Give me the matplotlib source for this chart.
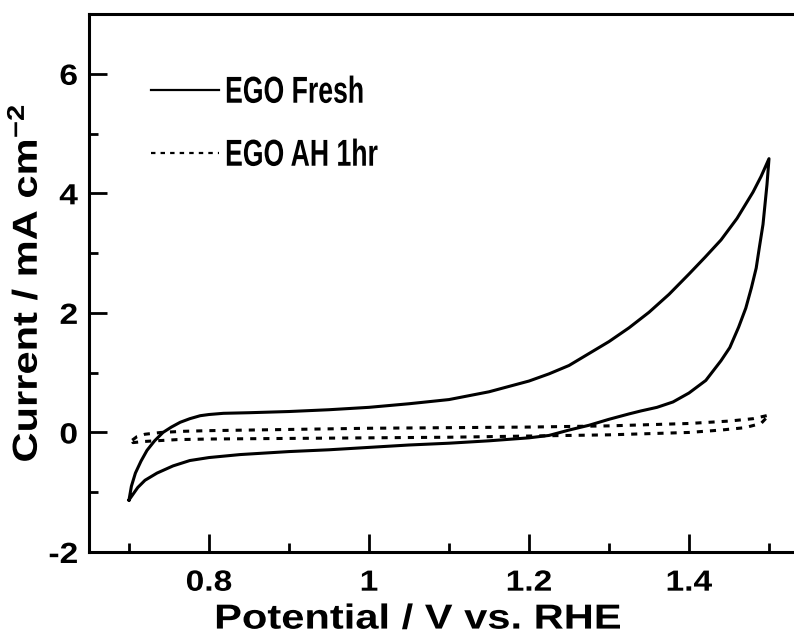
import matplotlib
matplotlib.use("Agg")
import matplotlib.pyplot as plt
from matplotlib.ticker import MultipleLocator, FuncFormatter
from matplotlib.patheffects import AbstractPathEffect
from matplotlib.transforms import Affine2D

# CV of fresh EGO electrode (anodic sweep then cathodic sweep)
fresh_v = [0.700, 0.703, 0.708, 0.715, 0.7225, 0.732, 0.7425, 0.753, 0.764, 0.776,
           0.789, 0.800, 0.818, 0.850, 0.900, 0.950, 1.000, 1.050, 1.100, 1.150,
           1.200, 1.225, 1.250, 1.275, 1.300, 1.325, 1.350, 1.375, 1.400, 1.420,
           1.440, 1.460, 1.480, 1.490, 1.500,
           1.4975, 1.4925, 1.488, 1.484, 1.478, 1.471, 1.462, 1.451, 1.440, 1.421,
           1.400, 1.380, 1.360, 1.340, 1.325, 1.300, 1.275,
           1.250, 1.225, 1.200, 1.150, 1.100, 1.050, 1.000, 0.950, 0.900, 0.839,
           0.800, 0.776, 0.755, 0.735, 0.720, 0.711, 0.700]
fresh_i = [-1.13, -0.90, -0.68, -0.48, -0.30, -0.14, 0.00, 0.09, 0.17, 0.23,
           0.28, 0.30, 0.32, 0.33, 0.35, 0.38, 0.42, 0.48, 0.55, 0.68,
           0.86, 0.98, 1.12, 1.32, 1.52, 1.75, 2.01, 2.31, 2.65, 2.93,
           3.22, 3.58, 4.02, 4.28, 4.58,
           4.15, 3.48, 3.10, 2.75, 2.42, 2.08, 1.76, 1.42, 1.20, 0.87,
           0.66, 0.51, 0.42, 0.36, 0.31, 0.22, 0.12,
           0.04, -0.05, -0.09, -0.14, -0.18, -0.21, -0.25, -0.29, -0.32, -0.37,
           -0.42, -0.47, -0.56, -0.68, -0.80, -0.92, -1.13]

# CV after 1 h acid heating
ah_v = [0.704, 0.710, 0.720, 0.740, 0.770, 0.800, 0.900, 1.000, 1.100, 1.200,
        1.300, 1.400, 1.450, 1.480, 1.500,
        1.490, 1.470, 1.440, 1.400, 1.300, 1.200, 1.100, 1.000, 0.900, 0.800,
        0.760, 0.720, 0.705, 0.704]
ah_i = [-0.13, -0.07, -0.03, 0.00, 0.02, 0.03, 0.05, 0.07, 0.08, 0.09,
        0.11, 0.15, 0.19, 0.23, 0.29,
        0.15, 0.08, 0.04, 0.00, -0.04, -0.06, -0.08, -0.09, -0.10, -0.11,
        -0.12, -0.15, -0.17, -0.13]

labels = ["EGO Fresh", "EGO AH 1hr"]


class Stretch(AbstractPathEffect):
    """Scale glyph outlines along the text direction."""
    def __init__(self, sx, anchor='center'):
        super().__init__()
        self.sx = sx
        self.anchor = anchor

    def draw_path(self, renderer, gc, tpath, affine, rgbFace=None):
        if len(tpath.vertices) == 0:
            return
        ext = tpath.get_extents()
        if self.anchor == 'left':
            cx = 0.0
        elif self.anchor == 'right':
            cx = ext.x1
        else:
            cx = 0.5 * (ext.x0 + ext.x1)
        t = Affine2D().translate(-cx, 0).scale(self.sx, 1).translate(cx, 0)
        renderer.draw_path(gc, tpath, t + affine, rgbFace)


plt.rcParams['font.family'] = ['Liberation Sans', 'DejaVu Sans']
plt.rcParams['font.weight'] = 'bold'
plt.rcParams['mathtext.fontset'] = 'custom'
plt.rcParams['mathtext.rm'] = 'Liberation Sans:bold'
plt.rcParams['mathtext.default'] = 'rm'

fig = plt.figure(figsize=(7.94, 6.35), dpi=100)
ax = fig.add_axes([89 / 794, 83 / 635, 720 / 794, 538 / 635])

ax.plot(fresh_v, fresh_i, color='black', lw=2.2, label=labels[0])
ax.plot(ah_v, ah_i, color='black', lw=2.2, linestyle=(0, (2.0, 2.3)), label=labels[1])

ax.set_xlim(0.65, 1.55)
ax.set_ylim(-2, 7)

ax.xaxis.set_major_locator(MultipleLocator(0.2))
ax.xaxis.set_minor_locator(MultipleLocator(0.1))
ax.yaxis.set_major_locator(MultipleLocator(2))
ax.yaxis.set_minor_locator(MultipleLocator(1))
ax.xaxis.set_major_formatter(FuncFormatter(lambda v, p: "%g" % round(v, 2)))
ax.yaxis.set_major_formatter(FuncFormatter(lambda v, p: "%d" % round(v)))

for s in ax.spines.values():
    s.set_linewidth(2.2)
ax.tick_params(which='both', direction='in', top=False, right=False, width=2.0)
ax.tick_params(which='major', length=13, labelsize=21, pad=8)
ax.tick_params(which='minor', length=6.5)
ax.tick_params(axis='x', which='major', pad=12)

for lab in ax.get_xticklabels():
    lab.set_path_effects([Stretch(1.15)])
for lab in ax.get_yticklabels():
    lab.set_path_effects([Stretch(1.15, 'right')])

xl = ax.set_xlabel("Potential / V vs. RHE", fontsize=25, fontweight='bold')
ax.xaxis.set_label_coords(0.457, -0.094)
yl = ax.set_ylabel("Current / mA cm$^{-2}$", fontsize=25, fontweight='bold', labelpad=6)
xl.set_path_effects([Stretch(1.2)])
yl.set_path_effects([Stretch(1.2)])

leg = ax.legend(loc='upper left', bbox_to_anchor=(0.065, 0.915), frameon=False,
                prop={'size': 27, 'weight': 'bold'}, handlelength=1.83,
                handletextpad=0.15, labelspacing=0.72, borderaxespad=0)
for h in leg.get_lines():
    h.set_linewidth(1.6)
for t in leg.get_texts():
    t.set_path_effects([Stretch(0.71, 'left')])

fig.savefig("out.png", dpi=100)
